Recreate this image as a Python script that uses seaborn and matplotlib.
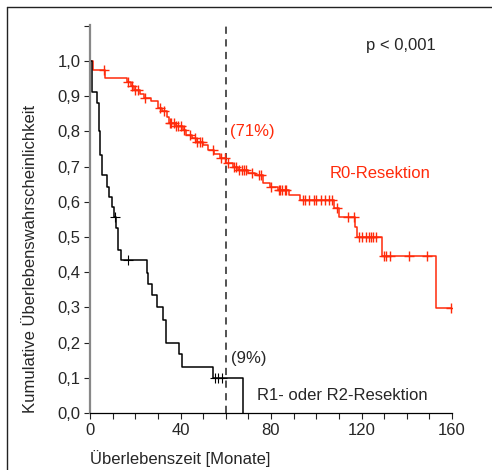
import numpy as np
import pandas as pd
import matplotlib
matplotlib.use("Agg")
import matplotlib.pyplot as plt
import seaborn as sns
from matplotlib.lines import Line2D

# R0-Resektion (red): step times [Monate] and survival
r0_time = [0, 1.5, 6.5, 16.5, 18, 19.5, 22, 24, 27, 30, 32, 34, 35, 38, 41, 42.5,
           45, 47, 50, 52, 55, 57.5, 60, 63, 65.5, 70, 73, 76.5, 79.5, 83, 88, 93,
           108, 110, 117, 118, 129, 153, 160]
r0_surv = [1.0, 0.975, 0.952, 0.94, 0.93, 0.918, 0.905, 0.895, 0.885, 0.866, 0.858,
           0.84, 0.824, 0.815, 0.804, 0.79, 0.78, 0.77, 0.76, 0.748, 0.735, 0.724,
           0.71, 0.70, 0.69, 0.683, 0.676, 0.653, 0.642, 0.633, 0.62, 0.605,
           0.582, 0.557, 0.528, 0.50, 0.446, 0.298, 0.298]
r0_censor = [6, 17, 18.5, 20, 21, 24.5, 31, 32.5, 35.5, 36, 37, 38, 39, 40, 41.5,
             44, 46.5, 47.5, 48.5, 49.5, 54.5, 58, 59.5, 61, 63.5, 64.5, 66, 67, 68,
             69, 71.5, 74.5, 75.5, 80, 83.5, 84, 85, 86, 86.5, 94, 95, 97, 99, 100,
             102, 104, 105.5, 107, 109, 114, 116.5, 119, 120, 122, 123.5, 124, 125,
             126.5, 130, 131, 132.5, 141, 149, 159.5]

# R1- oder R2-Resektion (black)
r12_time = [0, 1, 2.9, 4, 4.4, 5.2, 7.4, 8.4, 9.6, 10.5, 11.5, 12.5, 13.6, 25.2,
            25.6, 27.4, 29.6, 32.2, 33.6, 39.3, 40.7, 54.5, 67.7]
r12_surv = [1.0, 0.912, 0.88, 0.80, 0.733, 0.676, 0.642, 0.614, 0.585, 0.557, 0.526,
            0.463, 0.435, 0.399, 0.366, 0.334, 0.300, 0.264, 0.200, 0.168, 0.132,
            0.099, 0.0]
r12_censor = [11, 17, 55.2, 56.6, 58.3]

red = "#ff2a0a"

def censor_y(times, surv, cens):
    idx = np.searchsorted(times, cens, side="right") - 1
    return np.asarray(surv)[idx]

sns.set_style("ticks")
plt.rcParams["font.family"] = ["Liberation Sans", "DejaVu Sans"]

fig = plt.figure(figsize=(4.92, 4.70), dpi=100)
ax = fig.add_axes([90 / 492, 1 - 413 / 470, 362 / 492, 388 / 470])

df = pd.concat([
    pd.DataFrame({"t": r0_time, "s": r0_surv, "g": "R0"}),
    pd.DataFrame({"t": r12_time, "s": r12_surv, "g": "R12"}),
])
sns.lineplot(data=df, x="t", y="s", hue="g", palette={"R0": red, "R12": "black"},
             drawstyle="steps-post", estimator=None, sort=False, linewidth=1.1,
             legend=False, ax=ax)
sns.scatterplot(x=r0_censor, y=censor_y(r0_time, r0_surv, r0_censor), marker="+",
                color=red, s=60, linewidth=1.0, ax=ax, zorder=3)
sns.scatterplot(x=r12_censor, y=censor_y(r12_time, r12_surv, r12_censor), marker="+",
                color="black", s=50, linewidth=0.8, ax=ax, zorder=3)

ax.axvline(60, color="#444444", linestyle=(0, (4, 3)), linewidth=1.3)

ax.set_xlim(0, 160)
ax.set_ylim(0, 1.102)
ax.set_xticks([0, 40, 80, 120, 160])
ax.set_xticks(np.arange(0, 161, 10), minor=True)
yt = np.round(np.arange(0, 1.11, 0.1), 1)
ax.set_yticks(yt)
ax.set_yticklabels([f"{v:.1f}".replace(".", ",") if v <= 1.0 else "" for v in yt])
ax.tick_params(axis="both", which="both", length=4, width=0.8, color="#222222",
               labelsize=12, pad=3)
ax.tick_params(axis="x", which="minor", labelbottom=False)
sns.despine(ax=ax)
ax.spines["left"].set_color("#888888")
ax.spines["left"].set_linewidth(1.6)
ax.spines["bottom"].set_color("black")
ax.spines["bottom"].set_linewidth(0.9)

ax.set_xlabel("Überlebenszeit [Monate]", fontsize=12, loc="left", labelpad=9)
ax.set_ylabel("Kumulative Überlebenswahrscheinlichkeit", fontsize=12, loc="bottom",
              labelpad=14)

ax.text(122, 1.045, "p < 0,001", fontsize=12, va="center")
ax.text(62, 0.80, "(71%)", fontsize=12, color=red, va="center")
ax.text(106, 0.68, "R0-Resektion", fontsize=12, color=red, va="center")
ax.text(62.5, 0.156, "(9%)", fontsize=12, va="center")
ax.text(74, 0.051, "R1- oder R2-Resektion", fontsize=12, va="center")

# outer frame (left and top edges visible)
fx = 7 / 492
fy = 1 - 7 / 470
fig.add_artist(Line2D([fx, fx], [0, fy], transform=fig.transFigure, color="#222222", lw=1))
fig.add_artist(Line2D([fx, 1], [fy, fy], transform=fig.transFigure, color="#222222", lw=1))

fig.savefig("out.png", dpi=100)
